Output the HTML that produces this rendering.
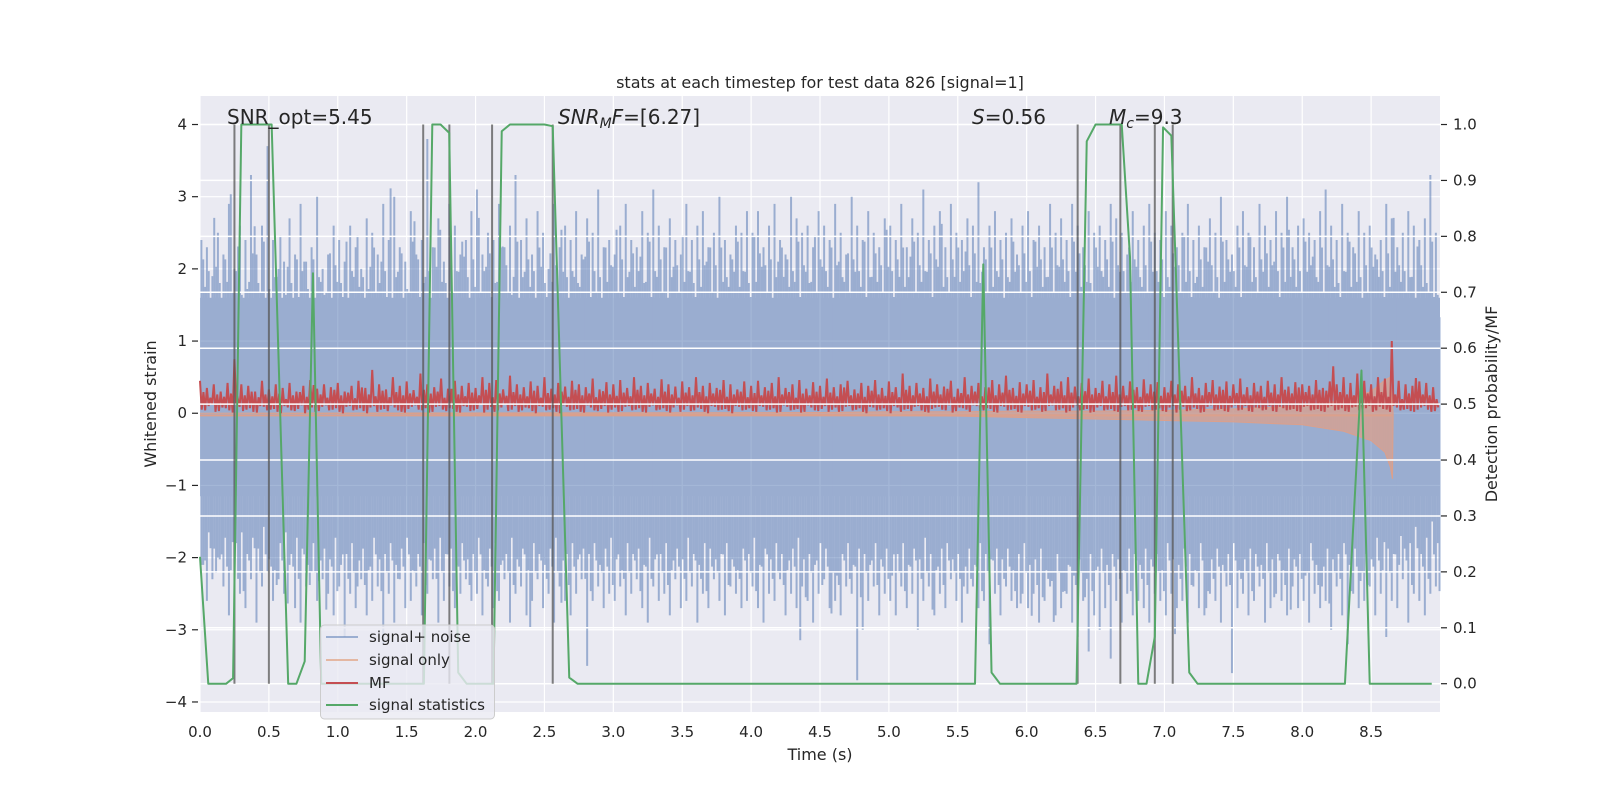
<!DOCTYPE html>
<html><head><meta charset="utf-8">
<style>
html,body{margin:0;padding:0;background:#fff;}
svg{display:block;font-family:"DejaVu Sans","Liberation Sans",sans-serif;}
</style></head>
<body>
<svg id="chart" width="1600" height="800" viewBox="0 0 1600 800" xmlns="http://www.w3.org/2000/svg">
<rect x="200" y="96" width="1240" height="616" fill="#eaeaf2"/>
<g id="gridBack"></g>
<g id="noise" opacity="0.5"></g>
<g id="sig"></g>
<g id="mf"></g>
<g id="gridFront"></g>
<g id="vlines"></g>
<g id="stat"></g>
<g id="axes"></g>
<text x="820" y="88" font-size="16" text-anchor="middle" fill="#262626">stats at each timestep for test data 826 [signal=1]</text>
<text x="820" y="760" font-size="16" text-anchor="middle" fill="#262626">Time (s)</text>
<text transform="translate(156,404) rotate(-90)" font-size="16" text-anchor="middle" fill="#262626">Whitened strain</text>
<text transform="translate(1497,404) rotate(-90)" font-size="16" text-anchor="middle" fill="#262626">Detection probability/MF</text>
<g font-size="20" fill="#262626">
<text x="227" y="124">SNR_opt=5.45</text>
<text x="558" y="124"><tspan font-style="italic">SNR</tspan><tspan font-style="italic" font-size="14" dy="4">M</tspan><tspan font-style="italic" dy="-4">F</tspan>=[6.27]</text>
<text x="972" y="124"><tspan font-style="italic">S</tspan>=0.56</text>
<text x="1109" y="124"><tspan font-style="italic">M</tspan><tspan font-style="italic" font-size="14" dy="4">c</tspan><tspan dy="-4">=9.3</tspan></text>
</g>
<g>
<rect x="320.5" y="625" width="174" height="94" rx="4" fill="#eaeaf2" fill-opacity="0.8" stroke="#cccccc" stroke-width="1"/>
<line x1="326" y1="637" x2="358" y2="637" stroke="#4c72b0" stroke-opacity="0.5" stroke-width="2"/>
<text x="369" y="642" font-size="15" fill="#262626">signal+ noise</text>
<line x1="326" y1="660" x2="358" y2="660" stroke="#dd8452" stroke-opacity="0.5" stroke-width="2"/>
<text x="369" y="665" font-size="15" fill="#262626">signal only</text>
<line x1="326" y1="683" x2="358" y2="683" stroke="#c44e52" stroke-width="2"/>
<text x="369" y="688" font-size="15" fill="#262626">MF</text>
<line x1="326" y1="705" x2="358" y2="705" stroke="#55a868" stroke-width="2"/>
<text x="369" y="710" font-size="15" fill="#262626">signal statistics</text>
</g>
</svg>
<script>
const noiseHi=[2.4,2.3,1.9,2.5,2.2,2.9,2.0,2.6,2.4,3.3,2.2,2.6,3.7,2.4,2.0,2.1,2.7,2.2,2.9,2.1,2.3,3.0,2.0,2.2,2.6,
2.4,2.1,2.6,2.3,2.0,2.7,2.5,2.2,2.9,2.4,3.0,2.3,2.1,2.8,2.2,2.4,3.8,2.3,2.7,2.1,2.9,2.6,2.2,2.4,2.8,
3.1,2.2,2.5,2.4,2.9,2.3,2.6,3.3,2.4,2.7,2.2,2.8,2.5,2.0,2.9,2.3,2.6,2.4,2.8,2.2,2.7,2.5,3.1,2.3,2.4,
2.2,2.6,2.9,2.4,2.3,2.8,2.5,3.1,2.6,2.3,2.7,2.4,2.2,2.9,2.4,2.6,2.8,2.3,2.5,3.0,2.4,2.2,2.6,2.5,2.8,
2.5,2.8,2.3,2.6,2.9,2.4,2.2,3.0,2.7,2.5,2.6,2.3,2.8,2.6,2.4,2.9,2.5,2.2,3.0,2.6,2.4,2.8,2.5,2.3,2.7,
2.6,2.4,2.9,2.3,2.7,2.5,3.1,2.4,2.6,2.8,2.3,2.9,2.5,2.4,2.7,2.6,3.2,2.3,2.6,2.8,2.4,2.5,2.7,2.2,2.6,
2.8,2.4,2.6,2.3,2.9,2.5,2.7,2.4,2.9,2.6,2.3,2.8,2.5,2.6,2.4,2.9,2.7,2.5,2.2,2.8,2.4,2.6,2.9,2.5,2.4,
2.8,2.6,2.3,2.5,2.9,2.4,2.6,2.3,2.7,2.5,3.0,2.4,2.2,2.6,2.8,2.5,2.3,2.9,2.6,2.4,2.8,2.5,3.0,2.3,2.6,
2.7,2.5,2.4,2.8,3.1,2.6,2.4,2.9,2.5,2.3,2.8,2.5,2.6,2.2,2.4,2.9,2.7,2.3,2.5,2.8,2.6,2.4,2.7,3.3,2.5];
const noiseLo=[-2.1,-2.6,-2.3,-2.0,-2.4,-2.8,-2.2,-2.5,-2.7,-2.3,-2.9,-2.4,-2.2,-2.6,-2.3,-2.5,-2.1,-2.7,-2.9,-2.4,-2.2,-2.6,-2.3,-2.5,-2.8,
-2.4,-3.1,-2.5,-2.7,-2.3,-2.8,-2.6,-2.4,-3.2,-2.5,-2.9,-2.3,-2.7,-2.6,-2.4,-2.8,-2.5,-2.3,-2.9,-2.6,-2.4,-2.7,-2.5,-2.3,-2.6,
-2.5,-2.8,-2.4,-2.7,-2.6,-2.3,-2.9,-2.5,-2.4,-2.8,-2.6,-2.3,-2.7,-2.5,-2.9,-2.4,-2.6,-2.8,-2.5,-2.3,-3.5,-2.6,-2.4,-2.7,-2.5,
-2.6,-2.4,-2.8,-2.5,-2.3,-2.7,-2.9,-2.4,-2.6,-2.5,-2.8,-2.3,-2.7,-2.6,-2.4,-2.9,-2.5,-2.7,-2.3,-2.6,-2.8,-2.4,-2.5,-2.7,-2.6,
-2.4,-2.7,-2.9,-2.5,-2.6,-2.3,-2.8,-2.5,-2.7,-2.4,-2.6,-2.9,-2.5,-2.3,-2.7,-2.6,-2.8,-2.4,-2.5,-3.7,-3.0,-2.6,-2.4,-2.8,-2.5,
-2.6,-2.8,-2.4,-2.7,-2.5,-3.0,-2.6,-2.4,-2.8,-2.5,-2.7,-2.3,-2.6,-2.9,-2.5,-2.4,-2.7,-2.6,-3.2,-2.5,-2.8,-2.4,-2.6,-2.7,-2.5,
-2.7,-2.5,-2.9,-2.6,-2.4,-2.8,-2.7,-2.5,-2.9,-3.1,-2.6,-3.3,-2.8,-3.0,-2.7,-3.4,-2.6,-2.9,-2.5,-2.8,-2.6,-2.7,-2.9,-2.5,-2.6,
-2.8,-2.5,-2.7,-2.6,-2.9,-2.4,-2.7,-2.8,-2.5,-2.6,-2.9,-2.4,-3.6,-2.7,-2.5,-2.8,-2.6,-2.4,-2.9,-2.7,-2.5,-2.6,-2.8,-2.4,-2.7,
-2.6,-2.9,-2.5,-2.7,-2.6,-3.0,-2.4,-2.8,-3.2,-2.5,-2.7,-2.6,-2.4,-2.8,-2.5,-3.1,-2.6,-2.7,-2.3,-2.9,-2.5,-2.6,-2.8,-2.5,-2.4];
const noiseDt=0.04;
const noiseCore=[-1.15,1.6];
const mfPeak=[0.45,0.35,0.4,0.3,0.42,0.75,0.4,0.38,0.3,0.45,0.33,0.4,0.35,0.42,0.3,0.38,0.46,0.34,0.4,0.36,
0.42,0.3,0.38,0.45,0.35,0.6,0.4,0.33,0.5,0.38,0.44,0.32,0.55,0.4,0.36,0.48,0.34,0.45,0.38,0.42,
0.35,0.5,0.42,0.46,0.33,0.52,0.4,0.36,0.44,0.38,0.5,0.34,0.42,0.37,0.45,0.4,0.36,0.48,0.33,0.43,
0.4,0.46,0.35,0.5,0.38,0.42,0.34,0.47,0.4,0.37,0.44,0.36,0.5,0.38,0.42,0.35,0.46,0.4,0.33,0.44,
0.38,0.45,0.36,0.42,0.5,0.35,0.4,0.46,0.34,0.43,0.38,0.48,0.36,0.4,0.45,0.33,0.42,0.38,0.46,0.35,
0.44,0.36,0.55,0.38,0.42,0.35,0.48,0.4,0.37,0.45,0.34,0.5,0.38,0.42,0.36,0.46,0.4,0.52,0.35,0.43,
0.4,0.46,0.36,0.55,0.38,0.44,0.5,0.37,0.42,0.48,0.35,0.45,0.4,0.52,0.38,0.44,0.36,0.47,0.4,0.43,
0.36,0.45,0.4,0.38,0.5,0.35,0.42,0.46,0.37,0.44,0.4,0.48,0.36,0.42,0.38,0.45,0.4,0.5,0.37,0.43,
0.4,0.38,0.46,0.35,0.44,0.4,0.5,0.42,0.55,0.45,0.4,0.5,0.48,1.0,0.45,0.4,0.38,0.44,0.42,0.36];
const mfLow=[0.05,0.1,0.02,0.08,0.04,0.12,0.03,0.07,0.01,0.09,0.05,0.02,0.1,0.04,0.06,0.0,0.08,0.03,0.11,0.05,
0.02,0.09,0.04,0.07,0.0,0.1,0.05,0.03,0.08,0.02,0.06,0.11,0.04,0.01,0.09,0.05,0.07,0.02,0.1,0.03,
0.06,0.01,0.09,0.04,0.12,0.05,0.02,0.08,0.03,0.1,0.04,0.07,0.0,0.09,0.05,0.02,0.11,0.04,0.06,0.01,
0.08,0.03,0.1,0.05,0.02,0.09,0.04,0.07,0.01,0.11,0.05,0.03,0.08,0.02,0.1,0.04,0.06,0.0,0.09,0.05,
0.03,0.1,0.04,0.07,0.02,0.09,0.05,0.01,0.11,0.04,0.06,0.02,0.08,0.03,0.1,0.05,0.02,0.09,0.04,0.07,
0.0,0.08,0.05,0.03,0.1,0.02,0.06,0.09,0.04,0.01,0.08,0.05,0.11,0.03,0.07,0.02,0.1,0.04,0.06,0.01,
0.09,0.05,0.02,0.1,0.04,0.07,0.03,0.11,0.05,0.01,0.08,0.04,0.06,0.02,0.1,0.05,0.03,0.09,0.04,0.07,
0.02,0.1,0.05,0.03,0.08,0.01,0.09,0.04,0.06,0.02,0.11,0.05,0.03,0.08,0.04,0.1,0.02,0.07,0.05,0.03,
0.09,0.04,0.06,0.02,0.1,0.05,0.03,0.08,0.04,0.07,0.02,0.09,0.05,0.1,0.04,0.06,0.02,0.08,0.05,0.03];
const mfDt=0.05;
const sigT=[0,4.5,5.0,5.5,6.0,6.5,7.0,7.5,8.0,8.3,8.5,8.6,8.64,8.655,8.66];
const sigUp=[0,0.01,0.02,0.02,0.03,0.03,0.04,0.06,0.1,0.18,0.3,0.46,0.5,0.1,0];
const sigDn=[0,-0.02,-0.03,-0.04,-0.06,-0.08,-0.1,-0.12,-0.16,-0.25,-0.38,-0.54,-0.75,-0.91,0];
const statT=[0,0.06,0.19,0.24,0.30,0.52,0.64,0.70,0.76,0.82,0.88,1.57,1.625,1.686,1.746,1.809,1.874,1.935,2.13,2.19,2.25,2.5,2.56,2.68,2.74,5.625,5.685,5.745,5.806,6.362,6.436,6.5,6.69,6.75,6.81,6.87,6.93,6.99,7.05,7.18,7.24,8.31,8.43,8.49,8.94];
const statP=[0.227,0,0,0.01,1.0,1.0,0,0,0.04,0.734,0,0,0,1.0,1.0,0.985,0.02,0,0,0.988,1.0,1.0,0.997,0.011,0,0,0.75,0.02,0,0,0.97,1.0,1.0,0.763,0,0,0.084,0.995,0.98,0.02,0,0,0.56,0,0];
const detT=[0.25,0.50,1.62,1.81,2.12,2.56,6.37,6.68,6.93,7.06];
const xTicks=[0,0.5,1,1.5,2,2.5,3,3.5,4,4.5,5,5.5,6,6.5,7,7.5,8,8.5];
const yTicks=[-4,-3,-2,-1,0,1,2,3,4];
const y2Ticks=[0,0.1,0.2,0.3,0.4,0.5,0.6,0.7,0.8,0.9,1.0];

const NS='http://www.w3.org/2000/svg';
const X0=200,X1=1440,Y0=96,Y1=712;
const xs=t=>X0+t/9*(X1-X0);
const yL=v=>Y1-(v+4.139)/8.534*(Y1-Y0);
const yR=p=>Y1-(p+0.0506)/1.1016*(Y1-Y0);
function mk(tag,attrs,parent){const e=document.createElementNS(NS,tag);for(const k in attrs)e.setAttribute(k,attrs[k]);parent.appendChild(e);return e;}
const gb=document.getElementById('gridBack'),gf=document.getElementById('gridFront'),ax=document.getElementById('axes');
xTicks.forEach(t=>{const l=mk('line',{x1:xs(t),x2:xs(t),y1:Y0,y2:Y1,stroke:'#fff','stroke-width':1.2},gb);


const tx=mk('text',{x:xs(t),y:737,'font-size':15,'text-anchor':'middle',fill:'#262626'},ax);tx.textContent=t.toFixed(1);

});
yTicks.forEach(v=>{const l=mk('line',{x1:X0,x2:X1,y1:yL(v),y2:yL(v),stroke:'#fff','stroke-width':1.2},gb);


mk('line',{x1:192,x2:198,y1:yL(v),y2:yL(v),stroke:'#262626','stroke-width':1.2},ax);
const tx=mk('text',{x:187,y:yL(v)+5,'font-size':15,'text-anchor':'end',fill:'#262626'},ax);tx.textContent=(v<0?'\u2212'+(-v):''+v);

});
y2Ticks.forEach(p=>{const l=mk('line',{x1:X0,x2:X1,y1:yR(p),y2:yR(p),stroke:'#fff','stroke-width':1.5},gf);


mk('line',{x1:1441,x2:1447,y1:yR(p),y2:yR(p),stroke:'#262626','stroke-width':1.2},ax);
const tx=mk('text',{x:1453,y:yR(p)+5,'font-size':15,'text-anchor':'start',fill:'#262626'},ax);tx.textContent=p.toFixed(1);

});
// noise
const gn=document.getElementById('noise');
const core=mk('rect',{x:X0,y:yL(noiseCore[1]),width:X1-X0,height:yL(noiseCore[0])-yL(noiseCore[1]),fill:'#4c72b0'},gn);


const N=noiseHi.length;
noiseHi.forEach((h,i)=>{const t=i*noiseDt+0.01;
const l=mk('line',{x1:xs(t),x2:xs(t),y1:yL(h),y2:yL(noiseLo[i]),stroke:'#4c72b0','stroke-width':2},gn);


const a=noiseHi[(i+7)%N],b=noiseLo[(i+11)%N],c=noiseHi[(i+3)%N],d=noiseLo[(i+5)%N];
const t2=t+noiseDt/3;
const l2=mk('line',{x1:xs(t2),x2:xs(t2),y1:yL(a*0.82),y2:yL(d*0.75),stroke:'#4c72b0','stroke-width':2},gn);


const t3=t+2*noiseDt/3;
const l3=mk('line',{x1:xs(t3),x2:xs(t3),y1:yL(c*0.7),y2:yL(b*0.85),stroke:'#4c72b0','stroke-width':2},gn);

});
// signal only
const gs=document.getElementById('sig');
let pts=sigT.map((t,i)=>xs(t)+','+yL(sigUp[i])).concat(sigT.slice().reverse().map((t,j)=>xs(t)+','+yL(sigDn[sigT.length-1-j])));
const sp=mk('polygon',{points:pts.join(' '),fill:'#dba08c','fill-opacity':0.75,stroke:'#dba08c','stroke-width':1},gs);


const sl=mk('line',{x1:X0,x2:xs(sigT[sigT.length-1]),y1:yL(-0.03),y2:yL(-0.03),stroke:'#dba08c','stroke-width':2},gs);


// MF
const gm=document.getElementById('mf');
const M=mfPeak.length;let mp=[];
mfPeak.forEach((v,i)=>{const t=i*mfDt;
mp.push(xs(t)+','+yL(v));
mp.push(xs(t+mfDt*0.25)+','+yL(mfLow[i]));
mp.push(xs(t+mfDt*0.5)+','+yL(mfPeak[(i+9)%M]*0.65));
mp.push(xs(t+mfDt*0.75)+','+yL(mfLow[(i+4)%M]));});
const mfl=mk('polyline',{points:mp.join(' '),fill:'none',stroke:'#c44e52','stroke-width':2,'stroke-linejoin':'miter'},gm);


// detection lines
const gv=document.getElementById('vlines');
detT.forEach(t=>{const l=mk('line',{x1:xs(t),x2:xs(t),y1:yL(4),y2:yR(0),stroke:'#555','stroke-opacity':0.75,'stroke-width':2},gv);

});
// stat
const gst=document.getElementById('stat');
const stl=mk('polyline',{points:statT.map((t,i)=>xs(t)+','+yR(statP[i])).join(' '),fill:'none',stroke:'#55a868','stroke-width':2,'stroke-linejoin':'round'},gst);


</script>
</body></html>
